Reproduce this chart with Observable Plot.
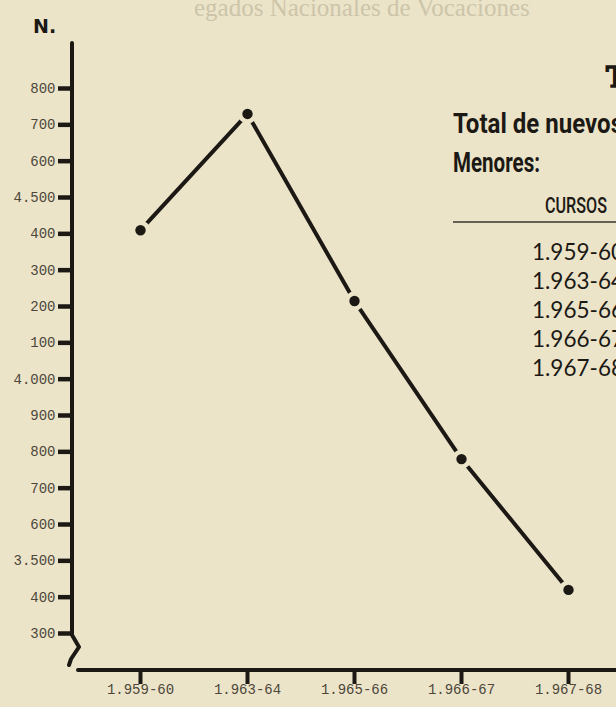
<!DOCTYPE html>
<html>
<head>
<meta charset="utf-8">
<script src="https://cdn.jsdelivr.net/npm/d3@7"></script>
<script src="https://cdn.jsdelivr.net/npm/@observablehq/plot@0.6"></script>
<style>
html, body { margin: 0; padding: 0; background: #ebe4c9; }
#wrap { position: relative; width: 616px; height: 707px; overflow: hidden; background: #ebe4c9; }
</style>
</head>
<body>
<div id="wrap"></div>
<script>
// ---- data ----
const cursos = ["1.959-60", "1.963-64", "1.965-66", "1.966-67", "1.967-68"];
const menores = [4410, 4730, 4215, 3780, 3420];
const yTickValues = [4800, 4700, 4600, 4500, 4400, 4300, 4200, 4100, 4000, 3900, 3800, 3700, 3600, 3500, 3400, 3300];
const yTickLabels = ["800", "700", "600", "4.500", "400", "300", "200", "100", "4.000", "900", "800", "700", "600", "3.500", "400", "300"];
const ejeYTitulo = "N.";
const encabezado = "egados Nacionales de Vocaciones";
const tablaTitulo = "T";
const tablaLinea1 = "Total de nuevos";
const tablaLinea2 = "Menores:";
const tablaCabecera = "CURSOS";
const tablaCursos = ["1.959-60", "1.963-64", "1.965-66", "1.966-67", "1.967-68"];

// ---- styles ----
const ink = "#1c1915";
const bg = "#ebe4c9";
const typeInk = "#4d4639";
const mono = "'Liberation Mono', 'DejaVu Sans Mono', monospace";

const data = cursos.map((curso, i) => ({curso, n: menores[i]}));

const W = 616, H = 707;
const mL = 72, mT = 43, mB = 37;

const plot = Plot.plot({
  width: W, height: H,
  marginLeft: mL, marginRight: 0, marginTop: mT, marginBottom: mB,
  style: {background: "transparent", color: ink, overflow: "visible"},
  x: {type: "point", domain: cursos, range: [138.5, 569.5], padding: 0, label: null},
  y: {domain: [3300, 4800], range: [633, 88], label: null},
  marks: [
    Plot.axisY({
      ticks: yTickValues,
      tickFormat: d => yTickLabels[yTickValues.indexOf(d)],
      anchor: "left", tickSize: 14, strokeWidth: 4.5, stroke: ink,
      tickPadding: 3, fontSize: 14, fontFamily: mono, fill: typeInk, label: null
    }),
    Plot.axisX({
      anchor: "bottom", tickSize: 14, strokeWidth: 4, stroke: ink,
      tickPadding: 0, fontSize: 14, fontFamily: mono, fill: typeInk, label: null
    }),
    Plot.line(data, {x: "curso", y: "n", stroke: ink, strokeWidth: 4, strokeLinecap: "round"}),
    Plot.dot(data, {x: "curso", y: "n", r: 5.2, fill: ink, stroke: bg, strokeWidth: 9, paintOrder: "stroke"})
  ]
});

document.getElementById("wrap").appendChild(plot);

// ---- hand-drawn axis lines (positions derived from the plot layout and scales) ----
const svg = d3.select(plot);
const ys = plot.scale("y");
const yBreak = ys.apply(3300);
const xAxisY = H - mB;
const deco = svg.append("g").attr("fill", "none").attr("stroke", ink)
  .attr("stroke-width", 4).attr("stroke-linecap", "round").attr("stroke-linejoin", "round");
deco.append("path").attr("d", `M${mL},${mT}V${yBreak + 2}l7,12l-8,12l-2,6`);
deco.append("path").attr("d", `M${mL + 6},${xAxisY}H${W}`);

// ---- texts ----
const t = svg.append("g").attr("text-anchor", "start");
t.append("text").text(encabezado)
  .attr("x", 194).attr("y", 16)
  .attr("font-family", "'Liberation Serif', 'DejaVu Serif', serif").attr("font-size", 25)
  .attr("fill", "#cdc5aa");

t.append("text").text(ejeYTitulo)
  .attr("x", 33).attr("y", 33)
  .attr("font-family", "'DejaVu Sans', 'Liberation Sans', sans-serif").attr("font-weight", "bold")
  .attr("font-size", 19).attr("fill", ink);

t.append("text").text(tablaTitulo)
  .attr("x", 606).attr("y", 87)
  .attr("font-family", "'DejaVu Serif', 'Liberation Serif', serif").attr("font-weight", "bold")
  .attr("font-size", 28).attr("fill", ink)
  .attr("stroke", ink).attr("stroke-width", 1.6);

t.append("text").text(tablaLinea1)
  .attr("x", 453).attr("y", 133)
  .attr("font-family", "Roboto, 'Liberation Sans', sans-serif").attr("font-weight", 700)
  .attr("font-size", 28).attr("fill", ink)
  .attr("textLength", 170).attr("lengthAdjust", "spacingAndGlyphs");

t.append("text").text(tablaLinea2)
  .attr("x", 453).attr("y", 172)
  .attr("font-family", "Roboto, 'Liberation Sans', sans-serif").attr("font-weight", 700)
  .attr("font-size", 27).attr("fill", ink)
  .attr("textLength", 87).attr("lengthAdjust", "spacingAndGlyphs");

t.append("text").text(tablaCabecera)
  .attr("x", 545).attr("y", 213)
  .attr("font-family", "Roboto, 'Liberation Sans', sans-serif").attr("font-weight", 500)
  .attr("font-size", 22).attr("fill", ink)
  .attr("textLength", 62).attr("lengthAdjust", "spacingAndGlyphs");

t.append("line")
  .attr("x1", 453).attr("x2", W).attr("y1", 222).attr("y2", 222)
  .attr("stroke", "#3a3630").attr("stroke-width", 1.5);

const rowBase = [260, 289, 318, 347, 376];
tablaCursos.forEach((c, i) => {
  t.append("text").text(c)
    .attr("x", 532).attr("y", rowBase[i])
    .attr("font-family", "Lato, 'Noto Sans', sans-serif").attr("font-weight", 400)
    .attr("font-size", 24).attr("fill", ink)
    .attr("textLength", 92).attr("lengthAdjust", "spacingAndGlyphs");
});
</script>
</body>
</html>
